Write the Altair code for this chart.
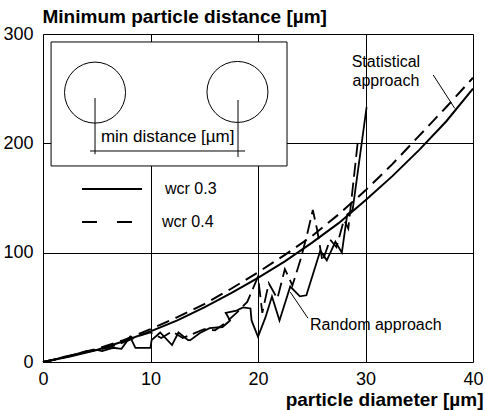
import altair as alt
import pandas as pd

FONT = "Liberation Sans"

# Statistical approach curves
st_x = [0, 2.5, 5, 7.5, 10, 12.5, 15, 17.5, 20, 22.5, 25, 27.5, 30, 32.5, 35, 37.5, 40]
st_wcr03 = [0, 5, 11, 19, 28, 38, 50, 63, 77, 92, 109, 127, 148, 170, 194, 220, 250]
st_wcr04 = [0, 5.5, 12, 20, 30, 41, 53, 67, 82, 98, 115, 135, 157, 181, 207, 233, 260]

# Random approach (wcr 0.3, solid)
rs_x = [0, 1, 2, 3, 4, 5, 5.5, 6.5, 7.3, 8.1, 8.6, 10.0, 10.1, 10.9, 12.0, 12.6, 13.5, 13.7,
        14.6, 15.5, 16.7, 17.4, 17.0, 18.0, 18.6, 19.3, 19.4, 20.0, 20.7, 21.3, 22.0, 23.0,
        23.9, 24.5, 25.8, 26.4, 27.2, 27.8, 28.3, 28.8, 30.1]
rs_y = [0, 2, 5, 7, 10, 11, 10, 13, 12, 23, 13, 13, 20, 27, 15.5, 27, 20, 20,
        26.5, 31, 32, 38, 45, 47, 50, 49, 38, 23, 41, 60, 38, 69,
        60, 61, 102, 93, 110, 100, 135, 139, 233]

# Random approach (wcr 0.4, dashed)
rd_x = [0, 1.5, 3, 4.5, 6, 7, 8, 9, 10, 11, 12, 13, 14, 15, 16, 17, 18, 19, 20, 20.4, 21,
        21.8, 22.5, 23.2, 24.0, 24.6, 25.1, 25.5, 26.0, 26.7, 27.3, 28.0, 28.4, 29.3]
rd_y = [0, 3, 7, 10, 13, 16, 20, 24, 27, 22, 28, 22, 26, 30, 29, 36, 45, 55, 78, 45, 72,
        58, 85, 70, 95, 118, 139, 121, 92, 112, 105, 130, 122, 203]

x_ticks = [0, 10, 20, 30, 40]
y_ticks = [0, 100, 200, 300]

xs = alt.Scale(domain=[0, 40], nice=False, zero=False)
ys = alt.Scale(domain=[0, 300], nice=False, zero=False)

xaxis = alt.Axis(values=x_ticks, grid=True, gridColor="black", gridWidth=1, gridOpacity=1,
                 ticks=False, tickSize=0, domain=False, labelFont=FONT, labelFontSize=18,
                 labelColor="black", labelPadding=8, labelFlush=False,
                 title="particle diameter [µm]", titleFont=FONT, titleFontSize=19,
                 titleFontWeight="bold", titleColor="black", titleAlign="right",
                 titleAnchor="end", titleX=440, titleY=43, titleBaseline="alphabetic")
yaxis = alt.Axis(values=y_ticks, grid=True, gridColor="black", gridWidth=1, gridOpacity=1,
                 ticks=False, tickSize=0, domain=False, labelFont=FONT, labelFontSize=18,
                 labelColor="black", labelPadding=10, labelFlush=False,
                 title="Minimum particle distance [µm]", titleFont=FONT, titleFontSize=19,
                 titleFontWeight="bold", titleColor="black", titleAngle=0, titleAlign="left",
                 titleAnchor="start", titleX=-1, titleY=-12, titleBaseline="alphabetic")


def X(f="x"):
    return alt.X(f, type="quantitative", scale=xs, axis=xaxis)


def Y(f="y"):
    return alt.Y(f, type="quantitative", scale=ys, axis=yaxis)


def line_layer(xv, yv, dash=None, width=1.8):
    df = pd.DataFrame({"x": xv, "y": yv, "i": list(range(len(xv)))})
    kw = dict(color="black", strokeWidth=width, strokeJoin="miter", strokeCap="butt")
    if dash:
        kw["strokeDash"] = dash
    return alt.Chart(df).mark_line(**kw).encode(x=X(), y=Y(), order="i:Q")


# inset box
box = pd.DataFrame({"x": [0.75], "x2": [22.7], "y": [179.3], "y2": [292.7]})
box_layer = alt.Chart(box).mark_rect(fill="white", stroke="black", strokeWidth=1).encode(
    x=X(), x2="x2", y=Y(), y2="y2")

circles = pd.DataFrame({"x": [4.84, 18.09], "y": [246.4, 247.0]})
circ_layer = alt.Chart(circles).mark_point(shape="circle", size=3721, filled=False,
                                           stroke="black", strokeWidth=1, opacity=1).encode(
    x=X(), y=Y())

segs = pd.DataFrame({
    "x": [4.84, 18.14, 4.37, 36.3, 23.0],
    "x2": [4.84, 18.14, 18.8, 38.3, 24.65],
    "y": [241.5, 239.6, 193.0, 262.5, 64.0],
    "y2": [190.0, 187.5, 193.0, 232.0, 40.0],
})
seg_layer = alt.Chart(segs).mark_rule(color="black", strokeWidth=1).encode(
    x=X(), x2="x2", y=Y(), y2="y2")

leg_solid = pd.DataFrame({"x": [3.63], "x2": [9.21], "y": [158.2], "y2": [158.2]})
leg_dash = pd.DataFrame({"x": [3.63], "x2": [9.21], "y": [128.0], "y2": [128.0]})
leg1 = alt.Chart(leg_solid).mark_rule(color="black", strokeWidth=2).encode(
    x=X(), x2="x2", y=Y(), y2="y2")
leg2 = alt.Chart(leg_dash).mark_rule(color="black", strokeWidth=2, strokeDash=[15, 20]).encode(
    x=X(), x2="x2", y=Y(), y2="y2")

texts = pd.DataFrame({
    "x": [11.6, 11.35, 11.07, 31.9, 31.9, 24.84],
    "y": [205.8, 158.2, 128.0, 274.4, 257.0, 33.8],
    "t": ["min distance [µm]", "wcr 0.3", "wcr 0.4", "Statistical", "approach", "Random approach"],
    "a": ["center", "left", "left", "center", "center", "left"],
})


def text_layer(row, size=16):
    df = pd.DataFrame({"x": [row.x], "y": [row.y], "t": [row.t]})
    return alt.Chart(df).mark_text(font=FONT, fontSize=size, color="black", align=row.a,
                                   baseline="middle").encode(x=X(), y=Y(), text="t:N")


text_layers = [text_layer(r, 17 if r.t.startswith("min") else 16) for r in texts.itertuples()]

chart = alt.layer(
    line_layer(st_x, st_wcr03, width=2),
    box_layer,
    circ_layer,
    seg_layer,
    leg1,
    leg2,
    line_layer(st_x, st_wcr04, dash=[13, 7], width=2),
    line_layer(rs_x, rs_y, width=1.8),
    line_layer(rd_x, rd_y, dash=[14, 6], width=1.8),
    *text_layers,
).properties(
    width=430, height=328,
    autosize=alt.AutoSizeParams(type="none"),
    padding={"left": 43, "top": 34, "right": 12, "bottom": 48},
).configure_view(stroke="black", strokeWidth=3).configure(background="white")

chart.save("out.html", embed_options={"renderer": "svg", "actions": False})
